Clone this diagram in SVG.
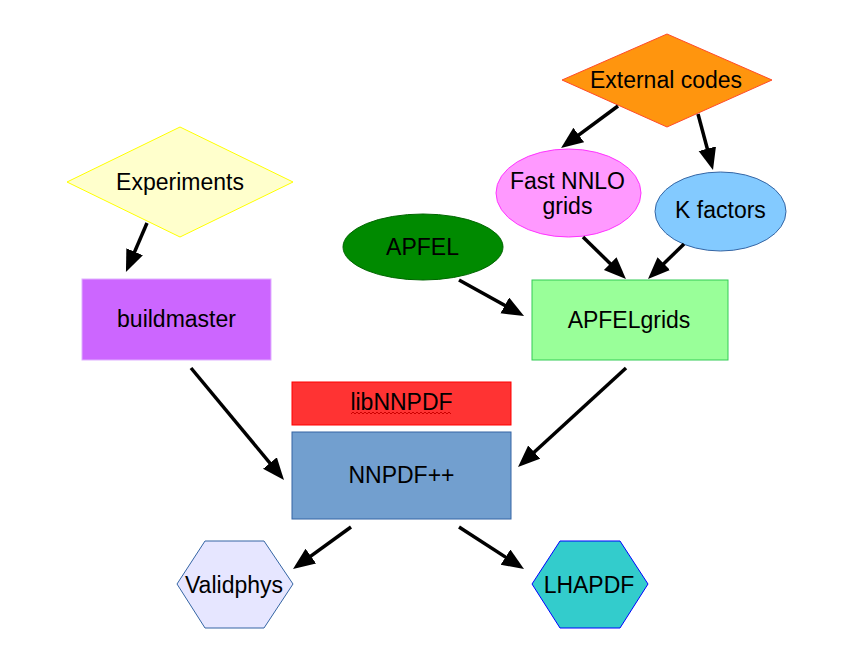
<svg xmlns="http://www.w3.org/2000/svg" width="863" height="671" viewBox="0 0 863 671">
<defs>
<style>
text{font-family:"Liberation Sans",Arial,sans-serif;font-size:23px;fill:#000;text-anchor:middle}
.c line{stroke:#000;stroke-width:3.5;fill:none;marker-end:url(#ah)}
</style>
<marker id="ah" markerUnits="userSpaceOnUse" markerWidth="24" markerHeight="20" refX="12" refY="9" orient="auto" viewBox="0 0 24 20">
<path d="M0,0 L22,9 L0,18 z" fill="#000"/>
</marker>
</defs>
<rect width="863" height="671" fill="#fff"/>
<g id="external"><polygon points="667,34 772,80 667,127 562,80" fill="#ff950e" stroke="#ff4a2a" stroke-width="1"/><text x="666" y="88">External codes</text></g>
<g id="fastnnlo"><ellipse cx="568.5" cy="193" rx="72.5" ry="44" fill="#ff99ff" stroke="#ff33ff" stroke-width="1"/><text x="567.5" y="189">Fast NNLO</text><text x="567.5" y="214">grids</text></g>
<g id="kfactors"><ellipse cx="720.5" cy="211.5" rx="65.5" ry="39.5" fill="#83caff" stroke="#3465a4" stroke-width="1"/><text x="720.5" y="218">K factors</text></g>
<g id="experiments"><polygon points="180,127 293,182 180,237 67,182" fill="#ffffcc" stroke="#ffff00" stroke-width="1"/><text x="180" y="190">Experiments</text></g>
<g id="apfel"><ellipse cx="423" cy="247" rx="80" ry="33" fill="#008a00" stroke="#006600" stroke-width="1"/><text x="422.5" y="255">APFEL</text></g>
<g id="buildmaster"><rect x="82" y="279" width="189" height="81" fill="#cc66ff" stroke="#e0b0ff" stroke-width="1"/><text x="176.5" y="327">buildmaster</text></g>
<g id="apfelgrids"><rect x="532" y="280" width="196" height="80" fill="#99ff99" stroke="#33cc55" stroke-width="1"/><text x="629" y="328">APFELgrids</text></g>
<g id="libnnpdf"><rect x="292" y="382" width="219" height="43" fill="#ff3333" stroke="#ff0000" stroke-width="1"/><text x="401.5" y="410">libNNPDF</text><path d="M351,414 l2,-2 l2,2 l2,-2 l2,2 l2,-2 l2,2 l2,-2 l2,2 l2,-2 l2,2 l2,-2 l2,2 l2,-2 l2,2 l2,-2 l2,2 l2,-2 l2,2 l2,-2 l2,2 l2,-2 l2,2 l2,-2 l2,2 l2,-2 l2,2 l2,-2 l2,2 l2,-2 l2,2 l2,-2 l2,2 l2,-2 l2,2 l2,-2 l2,2 l2,-2 l2,2 l2,-2 l2,2 l2,-2 l2,2 l2,-2 l2,2 l2,-2 l2,2 l2,-2 l2,2 l2,-2 l2,2" fill="none" stroke="#cc0000" stroke-width="1"/></g>
<g id="nnpdf"><rect x="292" y="432" width="219" height="87" fill="#729fcf" stroke="#3465a4" stroke-width="1"/><text x="401.5" y="483">NNPDF++</text></g>
<g id="validphys"><polygon points="177,584 205,541 264,541 293,584 264,628 205,628" fill="#e6e6ff" stroke="#3465a4" stroke-width="1"/><text x="234" y="593">Validphys</text></g>
<g id="lhapdf"><polygon points="532,584 560,541 620,541 648,584 620,628 560,628" fill="#33cccc" stroke="#0000ff" stroke-width="1"/><text x="589" y="593">LHAPDF</text></g>
<g id="connectors" class="c">
<line x1="147" y1="223" x2="129.9" y2="262.8"/>
<line x1="618" y1="106" x2="569.1" y2="142.1"/>
<line x1="698" y1="114" x2="710.4" y2="160.3"/>
<line x1="583" y1="237" x2="618.8" y2="272.0"/>
<line x1="684" y1="244" x2="655.2" y2="272.0"/>
<line x1="459" y1="280" x2="515.3" y2="311.2"/>
<line x1="626" y1="368" x2="525.4" y2="460.2"/>
<line x1="191" y1="368" x2="277.6" y2="472.3"/>
<line x1="351" y1="527" x2="301.1" y2="563.1"/>
<line x1="459" y1="527" x2="515.6" y2="563.6"/>
</g>
</svg>
